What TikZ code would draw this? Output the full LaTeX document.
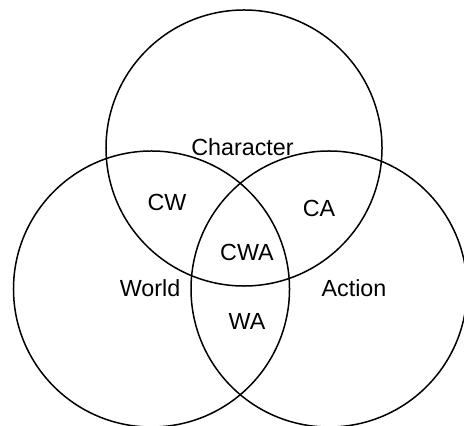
\documentclass[tikz,border=0pt]{standalone}
\usepackage{fontspec}
\setmainfont{Liberation Sans}
\usetikzlibrary{positioning}

\begin{document}
\begin{tikzpicture}[x=0.5bp, y=-0.5bp,
    setcircle/.style={draw, circle, line width=0.75bp, minimum size=138bp, inner sep=0pt},
    setlabel/.style={font=\fontsize{11.7}{14}\selectfont, inner sep=0pt}]
    % Fix the page size
    \useasboundingbox (0,0) rectangle (464,426);

    % Draw the three sets
    \node[setcircle] (character) at (244,148) {};
    \node[setcircle] (world) at (151.5,289) {};
    \node[setcircle] (action) at (329,289) {};

    % Labels of the single sets
    \node[setlabel] (charlabel) at (242.5,147) {Character};
    \node[setlabel] (worldlabel) at (150,288) {World};
    \node[setlabel] (actionlabel) at (354,288) {Action};

    % Labels of the overlaps
    \node[setlabel] (cw) at (167,202) {CW};
    \node[setlabel] (ca) at (319,208) {CA};
    \node[setlabel] (cwa) at (247,252) {CWA};
    \node[setlabel] (wa) at (247,321) {WA};
\end{tikzpicture}
\end{document}
